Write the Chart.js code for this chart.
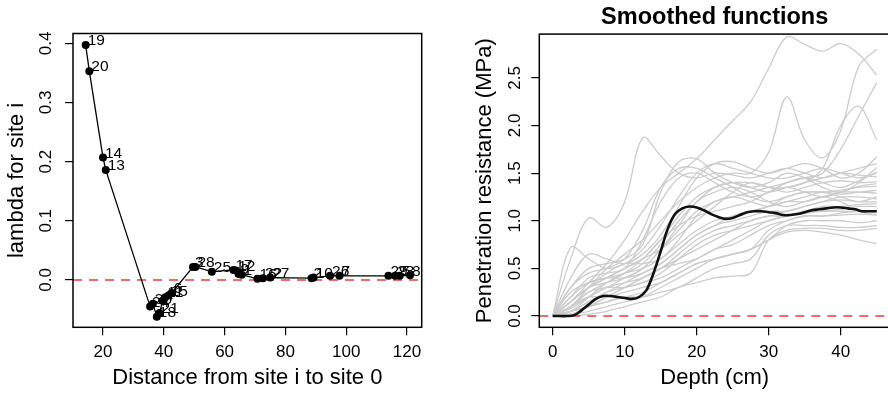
<!DOCTYPE html>
<html>
<head>
<meta charset="utf-8">
<script src="https://cdn.jsdelivr.net/npm/chart.js@4.4.1/dist/chart.umd.min.js"></script>
<style>
  html, body { margin: 0; padding: 0; background: #fff; overflow: hidden; width: 888px; height: 398px; }
  #left { position: absolute; left: 0; top: 0; width: 444px; height: 398px; }
  #right { position: absolute; left: 444px; top: 0; width: 460px; height: 398px; }
</style>
</head>
<body>
<canvas id="left" width="444" height="398"></canvas>
<canvas id="right" width="460" height="398"></canvas>
<script>
// left panel: lambda per site against distance
const siteDistance = [14.3, 15.5, 20.0, 20.9, 35.5, 36.4, 37.7, 38.6, 39.6, 40.5, 41.6, 42.6, 49.6, 50.4, 55.8,
  62.9, 63.8, 64.6, 65.6, 70.8, 72.6, 75.0, 88.6, 89.3, 94.7, 97.8, 113.9, 116.1, 117.6, 121.0];
const siteLambda = [0.397, 0.353, 0.207, 0.186, -0.045, -0.040, -0.062, -0.056, -0.035, -0.029, -0.026, -0.022, 0.022, 0.022, 0.014,
  0.017, 0.016, 0.010, 0.009, 0.002, 0.003, 0.004, 0.003, 0.004, 0.007, 0.007, 0.007, 0.007, 0.007, 0.008];
const siteLabel = ['19', '20', '14', '13', '24', '30', '18', '21', '4', '11', '15', '6', '3', '28', '25',
  '17', '12', '9', '1', '16', '22', '27', '2', '10', '26', '7', '29', '23', '5', '8'];
const distanceTicks = [20, 40, 60, 80, 100, 120];
const lambdaTicks = [0, 0.1, 0.2, 0.3, 0.4];
const distanceRange = [10.13, 124.84];
const lambdaRange = [-0.080, 0.4166];

// right panel: smoothed penetration resistance profiles
const depthGrid = [0, 2.5, 5, 7.5, 10, 12.5, 15, 17.5, 20, 22.5, 25, 27.5, 30, 32.5, 35, 37.5, 40, 42.5, 45];
const profileCurves = [
  [0, 0.15, 0.35, 0.55, 0.8, 1.1, 1.35, 1.5, 1.65, 1.85, 2.05, 2.25, 2.6, 2.93, 2.85, 2.78, 2.86, 2.75, 2.53],
  [0, 0.1, 0.3, 0.5, 0.65, 0.8, 1.0, 1.2, 1.35, 1.45, 1.5, 1.5, 1.72, 2.3, 1.85, 1.66, 1.95, 2.62, 2.8],
  [0, 0.15, 0.3, 0.4, 0.5, 0.6, 0.8, 1.05, 1.25, 1.35, 1.4, 1.4, 1.35, 1.35, 1.4, 1.55, 2.0, 2.2, 1.85],
  [0, 0.1, 0.2, 0.3, 0.4, 0.5, 0.7, 0.9, 1.1, 1.2, 1.25, 1.3, 1.35, 1.4, 1.45, 1.5, 1.75, 2.1, 2.45],
  [0, 0.6, 1.03, 0.93, 1.2, 1.87, 1.68, 1.5, 1.45, 1.5, 1.48, 1.45, 1.5, 1.55, 1.5, 1.45, 1.5, 1.55, 1.6],
  [0, 0.72, 0.6, 0.5, 0.55, 0.7, 0.95, 1.25, 1.5, 1.6, 1.55, 1.5, 1.45, 1.45, 1.5, 1.55, 1.5, 1.45, 1.5],
  [0, 0.4, 0.65, 0.6, 0.55, 0.65, 0.85, 1.15, 1.45, 1.6, 1.62, 1.55, 1.5, 1.55, 1.6, 1.55, 1.45, 1.5, 1.67],
  [0, 0.3, 0.5, 0.55, 0.6, 0.75, 1.3, 1.62, 1.65, 1.5, 1.4, 1.35, 1.4, 1.5, 1.45, 1.35, 1.3, 1.4, 1.56],
  [0, 0.2, 0.4, 0.45, 0.5, 0.8, 1.2, 1.45, 1.5, 1.4, 1.3, 1.25, 1.3, 1.4, 1.45, 1.4, 1.35, 1.42, 1.51],
  [0, 0.25, 0.35, 0.4, 0.45, 0.55, 0.75, 1.0, 1.2, 1.35, 1.4, 1.35, 1.3, 1.35, 1.4, 1.45, 1.5, 1.48, 1.46],
  [0, 0.15, 0.3, 0.4, 0.5, 0.6, 0.7, 0.85, 1.0, 1.15, 1.3, 1.4, 1.35, 1.3, 1.35, 1.4, 1.42, 1.40, 1.41],
  [0, 0.1, 0.25, 0.35, 0.45, 0.6, 0.8, 0.95, 1.05, 1.1, 1.15, 1.2, 1.3, 1.35, 1.3, 1.25, 1.3, 1.36, 1.39],
  [0, 0.05, 0.2, 0.35, 0.45, 0.5, 0.6, 0.75, 0.9, 1.0, 1.05, 1.1, 1.15, 1.25, 1.3, 1.3, 1.32, 1.35, 1.36],
  [0, 0.1, 0.3, 0.45, 0.55, 0.55, 0.6, 0.8, 1.05, 1.2, 1.25, 1.2, 1.15, 1.2, 1.25, 1.3, 1.28, 1.3, 1.32],
  [0, 0.05, 0.15, 0.25, 0.35, 0.45, 0.55, 0.7, 0.85, 0.95, 1.05, 1.1, 1.15, 1.2, 1.2, 1.25, 1.3, 1.3, 1.29],
  [0, 0.2, 0.35, 0.4, 0.4, 0.45, 0.55, 0.7, 0.85, 0.95, 1.0, 1.05, 1.1, 1.1, 1.15, 1.2, 1.25, 1.25, 1.23],
  [0, 0.05, 0.1, 0.2, 0.3, 0.4, 0.5, 0.6, 0.7, 0.8, 0.9, 1.0, 1.05, 1.1, 1.15, 1.2, 1.22, 1.2, 1.2],
  [0, 0.08, 0.2, 0.3, 0.35, 0.4, 0.5, 0.65, 0.8, 0.9, 0.95, 1.0, 1.05, 1.05, 1.1, 1.15, 1.15, 1.17, 1.18],
  [0, 0.1, 0.25, 0.3, 0.3, 0.35, 0.45, 0.6, 0.75, 0.85, 0.9, 0.95, 1.0, 1.05, 1.1, 1.1, 1.12, 1.15, 1.15],
  [0, 0.02, 0.1, 0.2, 0.3, 0.4, 0.5, 0.55, 0.6, 0.7, 0.8, 0.9, 1.0, 1.05, 1.08, 1.1, 1.1, 1.1, 1.11],
  [0, 0.05, 0.15, 0.25, 0.3, 0.35, 0.4, 0.5, 0.6, 0.7, 0.75, 0.85, 0.95, 1.0, 1.05, 1.05, 1.08, 1.1, 1.09],
  [0, 0.02, 0.05, 0.1, 0.15, 0.2, 0.3, 0.4, 0.5, 0.6, 0.65, 0.7, 0.9, 1.0, 1.05, 1.05, 1.06, 1.07, 1.06],
  [0, 0.1, 0.2, 0.2, 0.25, 0.3, 0.35, 0.45, 0.55, 0.6, 0.65, 0.7, 0.8, 0.95, 1.0, 1.0, 1.0, 0.98, 1.0],
  [0, 0.05, 0.1, 0.15, 0.2, 0.2, 0.25, 0.3, 0.4, 0.5, 0.55, 0.6, 0.85, 0.95, 0.95, 0.95, 0.93, 0.93, 0.95],
  [0, 0, 0.02, 0.05, 0.1, 0.15, 0.2, 0.3, 0.35, 0.4, 0.42, 0.45, 0.8, 0.9, 0.92, 0.92, 0.9, 0.9, 0.92],
  [0, 0.05, 0.1, 0.15, 0.2, 0.25, 0.35, 0.45, 0.55, 0.6, 0.65, 0.7, 0.8, 0.88, 0.9, 0.88, 0.85, 0.8, 0.76],
  [0, 0.3, 0.45, 0.5, 0.6, 0.9, 1.35, 1.55, 1.55, 1.45, 1.35, 1.25, 1.2, 1.25, 1.3, 1.3, 1.25, 1.2, 1.25],
  [0, 0.15, 0.3, 0.35, 0.4, 0.5, 0.7, 0.95, 1.2, 1.3, 1.35, 1.3, 1.2, 1.15, 1.2, 1.25, 1.2, 1.1, 1.06]
];
const meanDepth = [0, 1, 2, 3, 4, 5, 6, 7, 8, 9, 10, 11, 12, 13, 14, 15, 16, 17, 18, 19, 20, 21, 22,
  23, 24, 25, 26, 27, 28, 29, 30, 31, 32, 33, 34, 35, 36, 37, 38, 39, 40, 41, 42, 43, 44, 45];
const meanResistance = [0, 0, 0, 0.01, 0.06, 0.12, 0.18, 0.21, 0.21, 0.2, 0.19, 0.18, 0.2, 0.27, 0.45, 0.68,
  0.92, 1.07, 1.13, 1.15, 1.14, 1.11, 1.07, 1.04, 1.02, 1.03, 1.06, 1.09, 1.10, 1.10, 1.09, 1.08, 1.06,
  1.06, 1.07, 1.09, 1.11, 1.12, 1.13, 1.14, 1.14, 1.13, 1.12, 1.10, 1.10, 1.10];
const depthTicks = [0, 10, 20, 30, 40];
const resistanceTicks = [0, 0.5, 1, 1.5, 2, 2.5];
const depthRange = [-1.86, 46.86];
const resistanceRange = [-0.118, 2.959];

Chart.defaults.font.family = '"Liberation Sans", Arial, Helvetica, sans-serif';
Chart.defaults.color = '#000';
Chart.defaults.animation = false;

const red = '#f03c32';

const boxPlugin = {
  id: 'box',
  afterDraw(chart) {
    const a = chart.chartArea;
    const ctx = chart.ctx;
    ctx.save();
    ctx.strokeStyle = '#000';
    ctx.lineWidth = 1.5;
    ctx.strokeRect(a.left, a.top, a.right - a.left, a.bottom - a.top);
    ctx.restore();
  }
};

const siteLabelPlugin = {
  id: 'siteLabels',
  afterDatasetsDraw(chart) {
    const meta = chart.getDatasetMeta(0);
    const ctx = chart.ctx;
    ctx.save();
    ctx.font = '15.5px "Liberation Sans", Arial, sans-serif';
    ctx.fillStyle = '#000';
    ctx.textBaseline = 'middle';
    meta.data.forEach((pt, i) => {
      ctx.fillText(siteLabel[i], pt.x + 2, pt.y - 4);
    });
    ctx.restore();
  }
};

function axisStyle(ticks, range, fmt, width, height, pad, title, titlePad, rotate) {
  const s = {
    type: 'linear',
    min: range[0],
    max: range[1],
    border: { display: false },
    grid: { display: true, drawOnChartArea: false, drawTicks: true, tickLength: 8, color: '#000', lineWidth: 1.2 },
    afterBuildTicks: (scale) => { scale.ticks = ticks.map(v => ({ value: v })); },
    ticks: { autoSkip: false, padding: pad, font: { size: 17 }, color: '#000', callback: fmt },
    title: { display: true, text: title, font: { size: 22 }, color: '#000', padding: titlePad }
  };
  if (rotate) {
    s.ticks.minRotation = 90;
    s.ticks.maxRotation = 90;
    s.ticks.crossAlign = 'center';
  }
  if (width) s.afterFit = (scale) => { scale.width = width; };
  if (height) s.afterFit = (scale) => { scale.height = height; };
  return s;
}

new Chart(document.getElementById('left'), {
  type: 'scatter',
  data: {
    datasets: [
      {
        data: siteDistance.map((d, i) => ({ x: d, y: siteLambda[i] })),
        showLine: true,
        borderColor: '#000',
        backgroundColor: '#000',
        borderWidth: 1.3,
        pointRadius: 4,
        pointBorderWidth: 0,
        tension: 0
      },
      {
        data: [{ x: distanceRange[0], y: 0 }, { x: distanceRange[1], y: 0 }],
        showLine: true,
        borderColor: red,
        borderWidth: 1.4,
        borderDash: [9, 7],
        pointRadius: 0
      }
    ]
  },
  options: {
    responsive: false,
    layout: { padding: { left: 0, top: 33.5, right: 22.3, bottom: 0 } },
    plugins: { legend: { display: false }, tooltip: { enabled: false } },
    scales: {
      x: axisStyle(distanceTicks, distanceRange, v => String(v), null, 70.7, 6.5,
        'Distance from site i to site 0', { top: 0, bottom: 6.8 }, false),
      y: axisStyle(lambdaTicks, lambdaRange, v => v.toFixed(1), 73, null, 6.5,
        'lambda for site i', { top: 4.2, bottom: 0 }, true)
    }
  },
  plugins: [boxPlugin, siteLabelPlugin]
});

const grayDatasets = profileCurves.map(c => ({
  data: depthGrid.map((d, i) => ({ x: d, y: c[i] })),
  showLine: true,
  borderColor: '#cccccc',
  borderWidth: 1.3,
  pointRadius: 0,
  tension: 0.35
}));

new Chart(document.getElementById('right'), {
  type: 'scatter',
  data: {
    datasets: [
      {
        data: meanDepth.map((d, i) => ({ x: d, y: meanResistance[i] })),
        showLine: true,
        borderColor: '#111',
        borderWidth: 2.6,
        pointRadius: 0,
        tension: 0.35
      },
      {
        data: [{ x: depthRange[0], y: 0 }, { x: depthRange[1], y: 0 }],
        showLine: true,
        borderColor: red,
        borderWidth: 1.4,
        borderDash: [9, 7],
        pointRadius: 0
      },
      ...grayDatasets
    ]
  },
  options: {
    responsive: false,
    layout: { padding: { left: 0, top: 0, right: 13.9, bottom: 0 } },
    plugins: {
      legend: { display: false },
      tooltip: { enabled: false },
      title: {
        display: true,
        fullSize: false,
        text: 'Smoothed functions',
        font: { size: 23.5, weight: 'bold' },
        color: '#000',
        padding: { top: 3.2, bottom: 2.7 }
      }
    },
    scales: {
      x: axisStyle(depthTicks, depthRange, v => String(v), null, 70.7, 6.5,
        'Depth (cm)', { top: 0, bottom: 6.8 }, false),
      y: axisStyle(resistanceTicks, resistanceRange, v => v.toFixed(1), 95.3, null, 4,
        'Penetration resistance (MPa)', { top: 27.9, bottom: 0 }, true)
    }
  },
  plugins: [boxPlugin]
});
</script>
</body>
</html>
